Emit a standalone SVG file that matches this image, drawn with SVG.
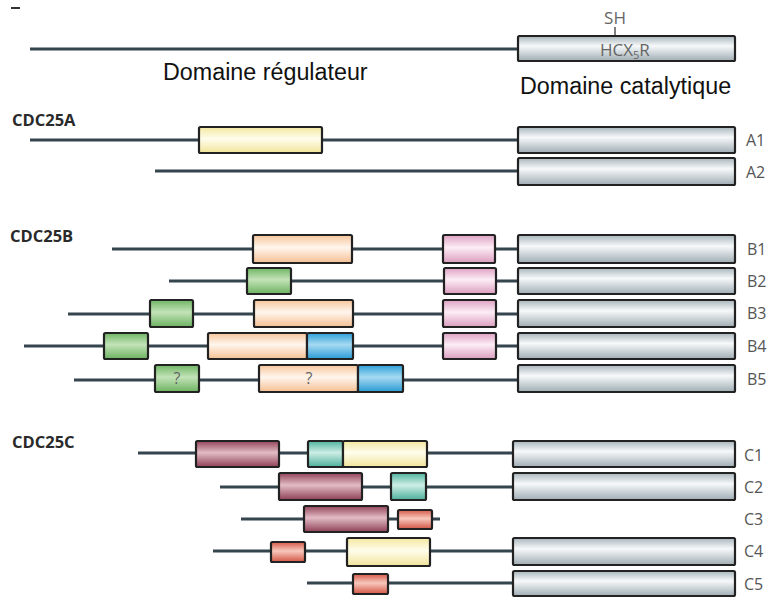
<svg xmlns="http://www.w3.org/2000/svg" width="767" height="597" viewBox="0 0 767 597">
<defs>
<linearGradient id="gGray" x1="0" y1="0" x2="0" y2="1"><stop offset="0" stop-color="#a7b5bc"/><stop offset="0.4" stop-color="#f7f9fa"/><stop offset="1" stop-color="#9fadb4"/></linearGradient>
<linearGradient id="gYel" x1="0" y1="0" x2="0" y2="1"><stop offset="0" stop-color="#f3e7a0"/><stop offset="0.45" stop-color="#fffdec"/><stop offset="1" stop-color="#f1e49a"/></linearGradient>
<linearGradient id="gOra" x1="0" y1="0" x2="0" y2="1"><stop offset="0" stop-color="#f7c59a"/><stop offset="0.45" stop-color="#fff6ee"/><stop offset="1" stop-color="#f5bf92"/></linearGradient>
<linearGradient id="gPink" x1="0" y1="0" x2="0" y2="1"><stop offset="0" stop-color="#dea1c3"/><stop offset="0.45" stop-color="#fcedf5"/><stop offset="1" stop-color="#db9dbf"/></linearGradient>
<linearGradient id="gGreen" x1="0" y1="0" x2="0" y2="1"><stop offset="0" stop-color="#6fb564"/><stop offset="0.45" stop-color="#c3e3b8"/><stop offset="1" stop-color="#6cb260"/></linearGradient>
<linearGradient id="gBlue" x1="0" y1="0" x2="0" y2="1"><stop offset="0" stop-color="#2c9fd9"/><stop offset="0.45" stop-color="#a6daf2"/><stop offset="1" stop-color="#2a9bd5"/></linearGradient>
<linearGradient id="gMar" x1="0" y1="0" x2="0" y2="1"><stop offset="0" stop-color="#93445a"/><stop offset="0.45" stop-color="#e2bcc5"/><stop offset="1" stop-color="#8e4056"/></linearGradient>
<linearGradient id="gTeal" x1="0" y1="0" x2="0" y2="1"><stop offset="0" stop-color="#4fb39f"/><stop offset="0.45" stop-color="#cdeee5"/><stop offset="1" stop-color="#4caf9b"/></linearGradient>
<linearGradient id="gRed" x1="0" y1="0" x2="0" y2="1"><stop offset="0" stop-color="#d5594a"/><stop offset="0.45" stop-color="#f8c8bc"/><stop offset="1" stop-color="#d25545"/></linearGradient>
</defs>
<style>
.ln{stroke:#34454e;stroke-width:3.2;fill:none}
.bx{stroke:#222;stroke-width:2.2}
.cat{fill:url(#gGray)}.yel{fill:url(#gYel)}.ora{fill:url(#gOra)}.pink{fill:url(#gPink)}.green{fill:url(#gGreen)}.blue{fill:url(#gBlue)}.mar{fill:url(#gMar)}.teal{fill:url(#gTeal)}.red{fill:url(#gRed)}
.big{font-family:"Liberation Sans",Arial,sans-serif;font-size:23.3px;fill:#111}
.hd{font-family:"Open Sans","Liberation Sans",sans-serif;font-weight:bold;font-size:16.5px;fill:#2a2a2a}
.lb{font-family:"Open Sans","Liberation Sans",sans-serif;font-size:16px;fill:#555}
.top{font-family:"Open Sans","Liberation Sans",sans-serif;font-size:17px;fill:#666}
.q{font-family:"Open Sans","Liberation Sans",sans-serif;font-size:16px;fill:#666}
</style>
<rect x="11" y="7" width="9" height="2" fill="#333"/>
<g id="connectors">
<line class="ln" x1="30" y1="49" x2="518" y2="49"/>
<line class="ln" x1="30" y1="140" x2="518" y2="140"/>
<line class="ln" x1="155" y1="171" x2="518" y2="171"/>
<line class="ln" x1="112" y1="249" x2="518" y2="249"/>
<line class="ln" x1="169" y1="281" x2="518" y2="281"/>
<line class="ln" x1="68" y1="314" x2="518" y2="314"/>
<line class="ln" x1="24" y1="346" x2="518" y2="346"/>
<line class="ln" x1="74" y1="380" x2="518" y2="380"/>
<line class="ln" x1="138" y1="453" x2="513" y2="453"/>
<line class="ln" x1="220" y1="487" x2="513" y2="487"/>
<line class="ln" x1="241" y1="519" x2="440" y2="519"/>
<line class="ln" x1="213" y1="551" x2="513" y2="551"/>
<line class="ln" x1="307" y1="583" x2="513" y2="583"/>
</g>
<g id="header">
<line x1="615" y1="27" x2="615" y2="36" stroke="#555" stroke-width="1.5"/>
<rect class="bx cat" x="518" y="36" width="217" height="25" rx="1.5"/>
<text class="top" x="615" y="24" text-anchor="middle">SH</text>
<text class="top" x="600" y="56">HCX<tspan font-size="11" dy="3">5</tspan><tspan font-size="17" dy="-3">R</tspan></text>
<text class="big" x="163" y="80">Domaine régulateur</text>
<text class="big" x="520" y="94">Domaine catalytique</text>
</g>
<g id="cdc25a">
<text class="hd" x="12" y="126">CDC25A</text>
<g id="A1">
<rect class="bx yel" x="199" y="127" width="123" height="26" rx="1.5"/>
<rect class="bx cat" x="518" y="127" width="217" height="26" rx="1.5"/>
<text class="lb" x="746" y="146">A1</text>
</g>
<g id="A2">
<rect class="bx cat" x="518" y="158" width="217" height="27" rx="1.5"/>
<text class="lb" x="746" y="178">A2</text>
</g>
</g>
<g id="cdc25b">
<text class="hd" x="10" y="242">CDC25B</text>
<g id="B1">
<rect class="bx ora" x="253" y="235" width="99" height="28" rx="1.5"/>
<rect class="bx pink" x="443" y="235" width="52" height="28" rx="1.5"/>
<rect class="bx cat" x="518" y="235" width="217" height="28" rx="1.5"/>
<text class="lb" x="747" y="255">B1</text>
</g>
<g id="B2">
<rect class="bx green" x="247" y="268" width="44" height="26" rx="1.5"/>
<rect class="bx pink" x="444" y="268" width="52" height="26" rx="1.5"/>
<rect class="bx cat" x="518" y="268" width="217" height="26" rx="1.5"/>
<text class="lb" x="747" y="287">B2</text>
</g>
<g id="B3">
<rect class="bx green" x="150" y="300" width="43" height="27" rx="1.5"/>
<rect class="bx ora" x="254" y="300" width="99" height="27" rx="1.5"/>
<rect class="bx pink" x="443" y="300" width="53" height="27" rx="1.5"/>
<rect class="bx cat" x="518" y="300" width="217" height="27" rx="1.5"/>
<text class="lb" x="747" y="319">B3</text>
</g>
<g id="B4">
<rect class="bx green" x="104" y="333" width="44" height="26" rx="1.5"/>
<rect class="bx ora" x="208" y="333" width="99" height="26" rx="1.5"/>
<rect class="bx blue" x="307" y="333" width="46" height="26" rx="1.5"/>
<rect class="bx pink" x="443" y="333" width="53" height="26" rx="1.5"/>
<rect class="bx cat" x="518" y="333" width="217" height="26" rx="1.5"/>
<text class="lb" x="747" y="352">B4</text>
</g>
<g id="B5">
<rect class="bx green" x="155" y="365" width="44" height="27" rx="1.5"/>
<text class="q" x="177" y="384" text-anchor="middle">?</text>
<rect class="bx ora" x="259" y="365" width="99" height="27" rx="1.5"/>
<text class="q" x="309" y="384" text-anchor="middle">?</text>
<rect class="bx blue" x="358" y="365" width="45" height="27" rx="1.5"/>
<rect class="bx cat" x="518" y="365" width="217" height="27" rx="1.5"/>
<text class="lb" x="747" y="385">B5</text>
</g>
</g>
<g id="cdc25c">
<text class="hd" x="12" y="448">CDC25C</text>
<g id="C1">
<rect class="bx mar" x="196" y="441" width="83" height="26" rx="1.5"/>
<rect class="bx teal" x="308" y="441" width="35" height="26" rx="1.5"/>
<rect class="bx yel" x="343" y="441" width="84" height="26" rx="1.5"/>
<rect class="bx cat" x="513" y="441" width="222" height="26" rx="1.5"/>
<text class="lb" x="744" y="461">C1</text>
</g>
<g id="C2">
<rect class="bx mar" x="279" y="473" width="83" height="27" rx="1.5"/>
<rect class="bx teal" x="391" y="473" width="35" height="27" rx="1.5"/>
<rect class="bx cat" x="513" y="473" width="222" height="27" rx="1.5"/>
<text class="lb" x="744" y="493">C2</text>
</g>
<g id="C3">
<rect class="bx mar" x="304" y="506" width="84" height="26" rx="1.5"/>
<rect class="bx red" x="398" y="510" width="34" height="19" rx="1.5"/>
<text class="lb" x="744" y="525">C3</text>
</g>
<g id="C4">
<rect class="bx red" x="271" y="542" width="34" height="20" rx="1.5"/>
<rect class="bx yel" x="347" y="538" width="83" height="28" rx="1.5"/>
<rect class="bx cat" x="513" y="538" width="222" height="27" rx="1.5"/>
<text class="lb" x="744" y="557">C4</text>
</g>
<g id="C5">
<rect class="bx red" x="353" y="574" width="35" height="20" rx="1.5"/>
<rect class="bx cat" x="513" y="571" width="222" height="25" rx="1.5"/>
<text class="lb" x="744" y="590">C5</text>
</g>
</g>
</svg>
